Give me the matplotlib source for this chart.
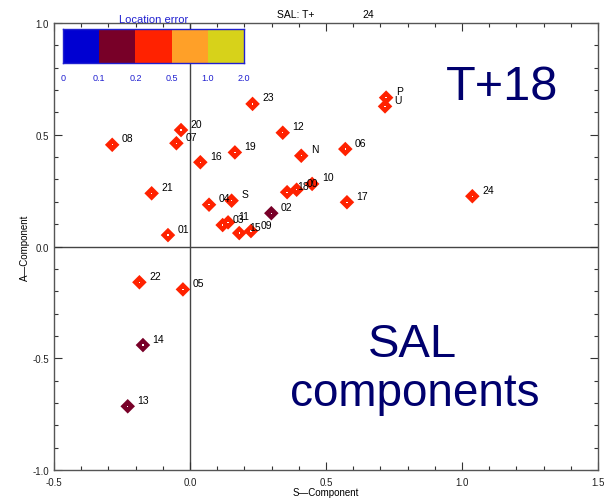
import matplotlib
matplotlib.use('Agg')
import matplotlib.pyplot as plt
from matplotlib.ticker import MultipleLocator

plt.rcParams['font.family'] = ['Liberation Sans', 'DejaVu Sans']

# SAL components per forecast hour
names = ['08', '20', '07', '16', '19', '23', '12', 'N', '21', '04', 'S', '02',
         '01', '03', '11', '15', '09', '18', '00', '10', '06', '17', '24', 'P',
         'U', '22', '05', '14', '13']
s_comp = [-0.286, -0.033, -0.050, 0.038, 0.165, 0.230, 0.341, 0.409, -0.141,
          0.070, 0.153, 0.299, -0.081, 0.120, 0.140, 0.181, 0.224, 0.357,
          0.392, 0.449, 0.571, 0.577, 1.038, 0.721, 0.717, -0.186, -0.026,
          -0.173, -0.229]
a_comp = [0.455, 0.521, 0.462, 0.377, 0.421, 0.638, 0.509, 0.406, 0.238,
          0.187, 0.205, 0.149, 0.051, 0.096, 0.108, 0.060, 0.069, 0.243,
          0.254, 0.280, 0.436, 0.198, 0.225, 0.666, 0.627, -0.160, -0.192,
          -0.441, -0.715]
# location error class (index into err_colors)
err_class = [2, 2, 2, 2, 2, 2, 2, 2, 2, 2, 2, 1, 2, 2, 2, 2, 2, 2, 2, 2, 2, 2,
             2, 2, 2, 2, 2, 1, 1]

err_bounds = ['0', '0.1', '0.2', '0.5', '1.0', '2.0']
err_colors = ['#0000d2', '#780028', '#ff2200', '#ffa028', '#d7d21a']

W, H = 606, 502
fig = plt.figure(figsize=(W / 100, H / 100), dpi=100)
ax = fig.add_axes([54 / W, 1 - 471 / H, 544 / W, 447 / H])

ax.set_xlim(-0.5, 1.5)
ax.set_ylim(-1.0, 1.0)
ax.axhline(0, color='#444444', lw=1.0, zorder=1)
ax.axvline(0, color='#444444', lw=1.0, zorder=1)

cols = [err_colors[c] for c in err_class]
ax.scatter(s_comp, a_comp, marker='D', s=55, c=cols, edgecolors='none', zorder=3)
ax.scatter(s_comp, a_comp, marker='s', s=0.8, c='white', edgecolors='none', zorder=4)

for n, x, y in zip(names, s_comp, a_comp):
    ax.annotate(n, (x, y), xytext=(7, 2.5), textcoords='offset points',
                fontsize=7.5, color='black', zorder=5)

ax.xaxis.set_major_locator(MultipleLocator(0.5))
ax.xaxis.set_minor_locator(MultipleLocator(0.1))
ax.yaxis.set_major_locator(MultipleLocator(0.5))
ax.yaxis.set_minor_locator(MultipleLocator(0.1))
ax.xaxis.set_major_formatter(plt.FormatStrFormatter('%.1f'))
ax.yaxis.set_major_formatter(plt.FormatStrFormatter('%.1f'))
ax.tick_params(which='both', direction='in', top=True, right=True,
               colors='#333333', labelsize=7, labelcolor='#222222')
ax.tick_params(axis='x', which='major', pad=5)
ax.tick_params(which='major', length=6, width=0.8)
ax.tick_params(which='minor', length=3, width=0.8)
for sp in ax.spines.values():
    sp.set_color('#555555')
    sp.set_linewidth(1.0)

ax.set_xlabel('S\u2014Component', fontsize=7, labelpad=0)
ax.set_ylabel('A\u2014Component', fontsize=7, labelpad=2)

fig.text(277 / W, 1 - 15 / H, 'SAL: T+', fontsize=7.5, va='center', ha='left')
fig.text(362 / W, 1 - 15 / H, '24', fontsize=7.5, va='center', ha='left')

fig.text(502 / W, 1 - 100 / H, 'T+18', fontsize=35, color='#00006e',
         ha='center', va='baseline')
fig.text(412 / W, 1 - 357 / H, 'SAL', fontsize=34, color='#00006e',
         ha='center', va='baseline')
fig.text(415 / W, 1 - 406 / H, 'components', fontsize=33, color='#00006e',
         ha='center', va='baseline')

# location error legend
cax = fig.add_axes([63 / W, 1 - 64 / H, 181 / W, 34 / H])
cax.bar(range(len(err_colors)), [1] * len(err_colors), width=1.0, align='edge',
        color=err_colors, edgecolor='none')
cax.set_xlim(0, len(err_colors))
cax.set_ylim(0, 1)
cax.set_xticks(range(len(err_bounds)))
cax.set_xticklabels(err_bounds)
cax.set_yticks([])
cax.tick_params(axis='x', length=0, labelsize=6.5, labelcolor='#2020d0', pad=7)
for sp in cax.spines.values():
    sp.set_color('#2020d0')
    sp.set_linewidth(1.0)
cax.set_title('Location error', fontsize=8, color='#2020d0', pad=5)

fig.savefig('out.png', dpi=100)
